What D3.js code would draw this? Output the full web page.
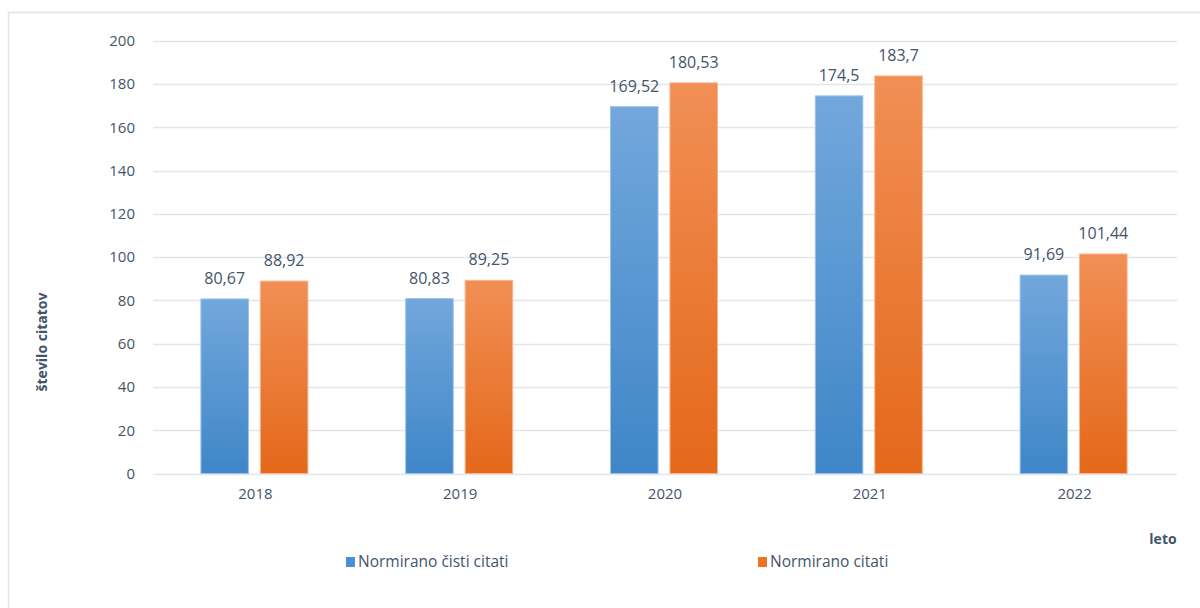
<!DOCTYPE html>
<html>
<head>
<meta charset="utf-8">
<script src="https://cdn.jsdelivr.net/npm/d3@7"></script>
<style>
  body { margin: 0; background: #fff; }
  text { font-family: "Open Sans", "Noto Sans", sans-serif; fill: #44546a; }
</style>
</head>
<body>
<svg id="chart" width="1200" height="608"></svg>
<script>
const years = ['2018', '2019', '2020', '2021', '2022']
const cistiCitati = [80.67, 80.83, 169.52, 174.5, 91.69]
const citati = [88.92, 89.25, 180.53, 183.7, 101.44]
const seriesNames = ['Normirano čisti citati', 'Normirano citati']
const yTicks = [0, 20, 40, 60, 80, 100, 120, 140, 160, 180, 200]

const svg = d3.select('#chart')

// outer chart frame
svg.append('rect')
  .attr('x', 8.5).attr('y', 12.5)
  .attr('width', 1200).attr('height', 620)
  .attr('fill', 'none')
  .attr('stroke', '#dfe3ea')
  .attr('stroke-width', 1.5)

const plotLeft = 153, plotRight = 1177, plotTop = 40.7, plotBottom = 473.5
const groupW = 107

const x = d3.scaleBand().domain(years).range([plotLeft, plotRight])
const x1 = d3.scaleBand().domain([0, 1]).range([0, groupW]).paddingInner(0.2)
const y = d3.scaleLinear().domain([0, 200]).range([plotBottom, plotTop])

// gradients
const defs = svg.append('defs')
const grads = [
  { id: 'gBlue', top: '#72a7dc', bottom: '#3f86c8' },
  { id: 'gOrange', top: '#f18f55', bottom: '#e4681a' }
]
grads.forEach(g => {
  const lg = defs.append('linearGradient')
    .attr('id', g.id).attr('x1', 0).attr('y1', 0).attr('x2', 0).attr('y2', 1)
  lg.append('stop').attr('offset', '0%').attr('stop-color', g.top)
  lg.append('stop').attr('offset', '100%').attr('stop-color', g.bottom)
})

// gridlines
svg.append('g')
  .selectAll('line')
  .data(yTicks)
  .enter()
  .append('line')
  .attr('x1', plotLeft).attr('x2', plotRight)
  .attr('y1', d => Math.round(y(d)) + 0.5)
  .attr('y2', d => Math.round(y(d)) + 0.5)
  .attr('stroke', '#e1e5ec')
  .attr('stroke-width', 1.5)

// y axis labels
const yAxis = svg.append('g')
  .attr('transform', `translate(${plotLeft - 18},0)`)
  .call(d3.axisLeft(y).tickValues(yTicks).tickSize(0).tickPadding(0))
yAxis.select('.domain').remove()
yAxis.selectAll('text')
  .attr('font-size', 15)
  .attr('font-family', '"Open Sans", sans-serif')
  .attr('fill', '#44546a')

// x axis labels
const xAxis = svg.append('g')
  .attr('transform', `translate(0,${plotBottom})`)
  .call(d3.axisBottom(x).tickSize(0).tickPadding(15))
xAxis.select('.domain').remove()
xAxis.selectAll('text')
  .attr('font-size', 15)
  .attr('font-family', '"Open Sans", sans-serif')
  .attr('fill', '#44546a')

// bars
const rows = years.map((yr, i) => ({ year: yr, vals: [cistiCitati[i], citati[i]] }))
const groups = svg.append('g')
  .selectAll('g')
  .data(rows)
  .enter()
  .append('g')
  .attr('transform', d => `translate(${x(d.year) + (x.bandwidth() - groupW) / 2 - 1},0)`)

groups.selectAll('rect')
  .data(d => d.vals.map((v, k) => ({ v, k })))
  .enter()
  .append('rect')
  .attr('x', d => x1(d.k))
  .attr('y', d => y(d.v))
  .attr('width', x1.bandwidth())
  .attr('height', d => plotBottom - y(d.v))
  .attr('fill', d => d.k === 0 ? 'url(#gBlue)' : 'url(#gOrange)')
  .attr('stroke', d => d.k === 0 ? '#9cc3ea' : '#f7b58c')
  .attr('stroke-width', 1)

groups.selectAll('text.val')
  .data(d => d.vals.map((v, k) => ({ v, k })))
  .enter()
  .append('text')
  .attr('class', 'val')
  .attr('x', d => x1(d.k) + x1.bandwidth() / 2)
  .attr('y', d => y(d.v) - 15)
  .attr('text-anchor', 'middle')
  .attr('font-size', 16)
  .text(d => String(d.v).replace('.', ','))

// axis titles
svg.append('text')
  .attr('transform', 'translate(47,342) rotate(-90)')
  .attr('text-anchor', 'middle')
  .attr('font-size', 14)
  .attr('font-weight', 'bold')
  .text('število citatov')

svg.append('text')
  .attr('x', 1163).attr('y', 544)
  .attr('text-anchor', 'middle')
  .attr('font-size', 14)
  .attr('font-weight', 'bold')
  .text('leto')

// legend
const legendX = [346, 758]
const legend = svg.append('g')
  .selectAll('g')
  .data(seriesNames)
  .enter()
  .append('g')
  .attr('transform', (d, i) => `translate(${legendX[i]},557)`)
legend.append('rect')
  .attr('width', 9).attr('height', 10)
  .attr('fill', (d, i) => i === 0 ? '#4a90d9' : '#ef7422')
legend.append('text')
  .attr('x', 12).attr('y', 10)
  .attr('font-size', 15.5)
  .text(d => d)
</script>
</body>
</html>
